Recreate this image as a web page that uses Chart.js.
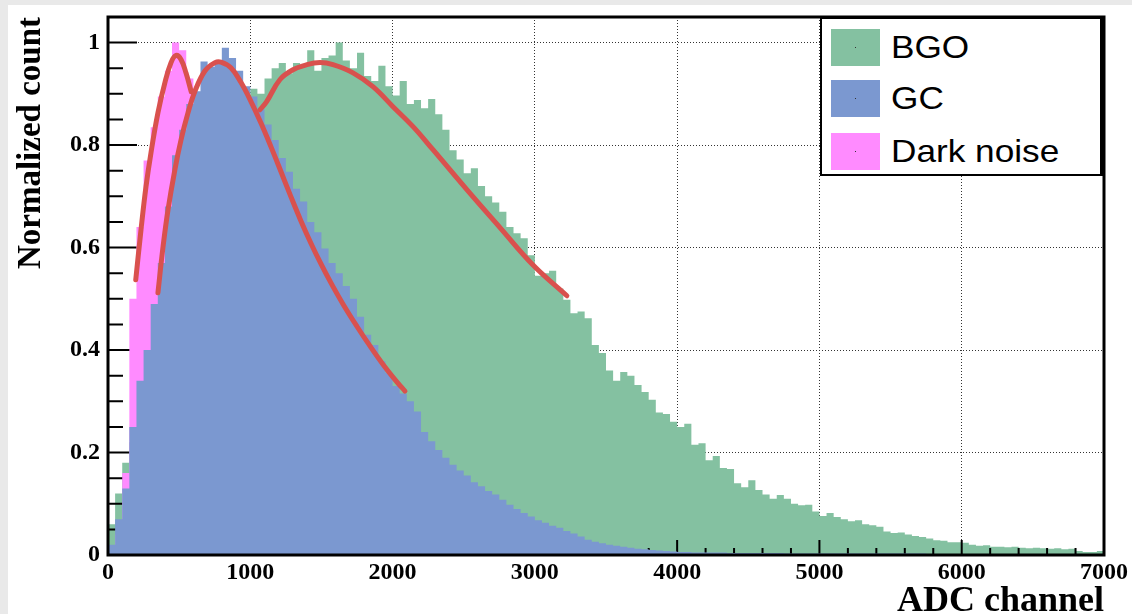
<!DOCTYPE html>
<html>
<head>
<meta charset="utf-8">
<script src="https://cdn.jsdelivr.net/npm/chart.js@4.4.1/dist/chart.umd.min.js"></script>
<style>
  html, body { margin: 0; padding: 0; background: #e9e9e9; }
  #wrap { position: absolute; left: 8px; top: 5px; width: 1124px; height: 609px; background: #fff; }
  #c { position: absolute; left: 0; top: 0; }
  #legendBox {
    position: absolute; left: 812px; top: 12px; width: 284px; height: 159px;
    box-sizing: border-box; background: #fff;
    border: 2px solid #000; border-right-width: 4px;
    font-family: "Liberation Sans", Arial, sans-serif; font-size: 32px; color: #000;
  }
  .item { position: absolute; left: 9px; height: 37px; }
  .sw { position: absolute; left: 0; top: 0; width: 49px; height: 37px; }
  .sw::after { content: ""; position: absolute; left: 24px; top: 18px; width: 1px; height: 1px; background: #333; }
  .lbl { position: absolute; left: 60px; top: 0; line-height: 37px; white-space: nowrap;
         transform: scaleX(1.1); transform-origin: left center; }
</style>
</head>
<body>
<div id="wrap">
  <canvas id="c" width="1124" height="609"></canvas>
  <div id="legendBox"></div>
</div>
<script>
// ---- data ----
const binWidth = 50;   // ADC channels per bin

// BGO histogram, bins 0..6950
const bgoCounts = [
  0.06, 0.12, 0.18, 0.22, 0.28, 0.35, 0.42, 0.50, 0.57, 0.63,
  0.69, 0.74, 0.78, 0.82, 0.85, 0.87, 0.88, 0.89, 0.90, 0.89,
  0.91, 0.90, 0.93, 0.95, 0.96, 0.94, 0.96, 0.955, 0.985, 0.945,
  0.97, 0.975, 1.0, 0.965, 0.95, 0.98, 0.935, 0.925, 0.955, 0.915,
  0.897, 0.925, 0.88, 0.888, 0.872, 0.89, 0.86, 0.83, 0.79, 0.772,
  0.745, 0.755, 0.72, 0.70, 0.688, 0.67, 0.64, 0.628, 0.618, 0.585,
  0.545, 0.55, 0.555, 0.52, 0.498, 0.472, 0.475, 0.462, 0.41, 0.394,
  0.36, 0.34, 0.357, 0.35, 0.332, 0.318, 0.303, 0.278, 0.275, 0.26,
  0.25, 0.256, 0.215, 0.218, 0.185, 0.193, 0.17, 0.168, 0.14, 0.132,
  0.146, 0.127, 0.118, 0.11, 0.117, 0.11, 0.10, 0.097, 0.098, 0.085,
  0.076, 0.082, 0.074, 0.07, 0.066, 0.068, 0.06, 0.058, 0.055, 0.046,
  0.043, 0.044, 0.04, 0.037, 0.035, 0.032, 0.029, 0.028, 0.025, 0.025,
  0.024, 0.02, 0.018, 0.019, 0.016, 0.016, 0.015, 0.016, 0.014, 0.013,
  0.014, 0.013, 0.012, 0.013, 0.011, 0.012, 0.008, 0.006, 0.006, 0.008
];

// GC histogram, bins 0..6950
const gcCounts = [
  0.02, 0.07, 0.13, 0.25, 0.34, 0.40, 0.49, 0.57, 0.68, 0.78,
  0.83, 0.88, 0.905, 0.963, 0.953, 0.963, 0.99, 0.97, 0.945, 0.915,
  0.895, 0.87, 0.84, 0.81, 0.775, 0.748, 0.715, 0.69, 0.65, 0.63,
  0.598, 0.57, 0.55, 0.525, 0.50, 0.465, 0.43, 0.41, 0.378, 0.355,
  0.33, 0.315, 0.30, 0.28, 0.24, 0.222, 0.205, 0.19, 0.176, 0.165,
  0.155, 0.142, 0.134, 0.125, 0.118, 0.108, 0.098, 0.09, 0.082, 0.075,
  0.068, 0.063, 0.057, 0.053, 0.047, 0.042, 0.036, 0.03, 0.026, 0.023,
  0.02, 0.018, 0.016, 0.014, 0.012, 0.011, 0.01, 0.009, 0.008, 0.007,
  0.006, 0.006, 0.005, 0.005, 0.005, 0.005, 0.005, 0.004, 0.004, 0.004,
  0.004, 0.004, 0.004, 0.004, 0.004, 0.003, 0.003, 0.003, 0.003, 0.003,
  0.003, 0.003, 0.003, 0.003, 0.003, 0.003, 0.003, 0.003, 0.003, 0.003,
  0.003, 0.003, 0.003, 0.003, 0.003, 0.002, 0.002, 0.002, 0.002, 0.002,
  0.002, 0.002, 0.002, 0.002, 0.002, 0.002, 0.002, 0.002, 0.002, 0.002,
  0.002, 0.002, 0.002, 0.002, 0.002, 0.002, 0.002, 0.002, 0.002, 0.002
];

// dark noise histogram, bins 0..1150
const darkCounts = [
  0.005, 0.04, 0.16, 0.5, 0.64, 0.77, 0.835, 0.895, 0.945, 1.0,
  0.985, 0.93, 0.8, 0.62, 0.45, 0.3, 0.2, 0.13, 0.08, 0.05,
  0.03, 0.02, 0.01, 0.005
];

// fitted curves
const darkFitX = [195, 232, 267, 302, 351, 400, 443, 478, 513, 548, 585];
const darkFitY = [0.537, 0.635, 0.719, 0.785, 0.863, 0.922, 0.961, 0.975, 0.967, 0.941, 0.904];

const gcFitX = [351, 387, 422, 470, 513, 562, 611, 682, 752, 794, 864, 935, 1005, 1075, 1145,
                1216, 1286, 1356, 1427, 1497, 1565, 1651, 1750, 1841, 1933, 2030, 2087];
const gcFitY = [0.512, 0.602, 0.674, 0.752, 0.81, 0.863, 0.905, 0.945, 0.961, 0.962, 0.951, 0.922, 0.885, 0.843, 0.797,
                0.748, 0.699, 0.652, 0.608, 0.568, 0.532, 0.49, 0.446, 0.408, 0.372, 0.338, 0.32];

const bgoFitX = [1068, 1115, 1209, 1300, 1398, 1490, 1581, 1722, 1862, 2003, 2144, 2284, 2522, 2755, 2987, 3225];
const bgoFitY = [0.869, 0.885, 0.928, 0.947, 0.957, 0.961, 0.957, 0.941, 0.914, 0.875, 0.836, 0.791, 0.713, 0.639, 0.566, 0.506];

const xTickValues = [0, 1000, 2000, 3000, 4000, 5000, 6000, 7000];
const yTickValues = [0, 0.2, 0.4, 0.6, 0.8, 1];
const yTickLabels = ['0', '0.2', '0.4', '0.6', '0.8', '1'];
const xMinorStep = 200;
const yMinorStep = 0.05;

const legendNames = ['BGO', 'GC', 'Dark noise'];
const colGreen = '#84c1a1', colBlue = '#7b98d0', colPink = '#ff8bff', colRed = '#d9514e';
const legendColors = [colGreen, colBlue, colPink];

// ---- helpers ----
function histPoints(counts){
  let pts = counts.map((c, i) => ({x: i*binWidth, y: c}));
  pts.push({x: counts.length*binWidth, y: counts[counts.length-1]});  // close last bin
  return pts;
}
function fitPoints(xs, ys){
  return xs.map((x, i) => ({x: x, y: ys[i]}));
}

function histSet(label, counts, color, order){
  return {
    label: label, data: histPoints(counts), stepped: 'before', fill: 'origin',
    backgroundColor: color, borderColor: 'rgba(0,0,0,0)', borderWidth: 1,
    pointRadius: 0, order: order
  };
}
function fitSet(label, xs, ys){
  return {
    label: label, data: fitPoints(xs, ys), borderColor: colRed, borderWidth: 5,
    tension: 0.4, pointRadius: 0, fill: false,
    borderCapStyle: 'round', order: 0
  };
}

// ticks go in after the BGO layer (other histograms cover them), frame goes on top
const rootAxes = {
  id: 'rootAxes',
  afterDatasetDraw(chart, args){
    if (args.index !== 0) return;
    const {ctx, chartArea: a, scales: {x, y}} = chart;
    ctx.save();
    ctx.strokeStyle = '#000';
    ctx.lineWidth = 2;
    ctx.beginPath();
    for (let v = 0; v <= 7000; v += xMinorStep){
      const px = x.getPixelForValue(v);
      const len = (v % 1000 === 0) ? 15 : 7;
      ctx.moveTo(px, a.bottom); ctx.lineTo(px, a.bottom - len);
    }
    for (let i = 0; i <= 20; i++){
      const py = y.getPixelForValue(i*yMinorStep);
      const len = (i % 4 === 0) ? 29 : 15;
      ctx.moveTo(a.left, py); ctx.lineTo(a.left + len, py);
    }
    ctx.stroke();
    ctx.restore();
  },
  afterDatasetsDraw(chart){
    const {ctx, chartArea: a} = chart;
    ctx.save();
    ctx.strokeStyle = '#000';
    ctx.lineWidth = 3;
    ctx.strokeRect(a.left, a.top, a.right - a.left, a.bottom - a.top);
    ctx.restore();
  }
};

const serif = '"Liberation Serif", "Times New Roman", serif';

new Chart(document.getElementById('c'), {
  type: 'line',
  data: {
    datasets: [
      histSet('BGO', bgoCounts, colGreen, 3),
      histSet('GC', gcCounts, colBlue, 1),
      histSet('Dark noise', darkCounts, colPink, 2),
      fitSet('BGO fit', bgoFitX, bgoFitY),
      fitSet('GC fit', gcFitX, gcFitY),
      fitSet('Dark noise fit', darkFitX, darkFitY)
    ]
  },
  options: {
    responsive: false,
    animation: false,
    devicePixelRatio: 1,
    layout: { padding: { left: 0, top: 12, right: 28, bottom: 0 } },
    plugins: { legend: { display: false }, tooltip: { enabled: false } },
    scales: {
      x: {
        type: 'linear', min: 0, max: 7000,
        afterFit: s => { s.height = 59; s.paddingLeft = 0; s.paddingRight = 0; },
        afterBuildTicks: s => { s.ticks = xTickValues.map(v => ({value: v})); },
        grid: { color: '#333', lineWidth: 1, drawTicks: false },
        border: { display: false, dash: [1, 2] },
        ticks: {
          padding: 3, color: '#000', maxRotation: 0, autoSkip: false,
          font: { family: serif, weight: 'bold', size: 24 },
          callback: v => String(v)
        },
        title: {
          display: true, text: 'ADC channel', align: 'end', color: '#000',
          font: { family: serif, weight: 'bold', size: 36, lineHeight: 0.7 },
          padding: { top: 0, bottom: 0 }
        }
      },
      y: {
        min: 0, max: 1.05,
        afterFit: s => { s.width = 100; s.paddingTop = 0; s.paddingBottom = 0; },
        afterBuildTicks: s => { s.ticks = yTickValues.map(v => ({value: v})); },
        grid: { color: '#333', lineWidth: 1, drawTicks: false },
        border: { display: false, dash: [1, 2] },
        ticks: {
          padding: 8, color: '#000', autoSkip: false,
          font: { family: serif, weight: 'bold', size: 24 },
          callback: (v, i) => yTickLabels[i]
        },
        title: {
          display: true, text: 'Normalized count', align: 'end', color: '#000',
          font: { family: serif, weight: 'bold', size: 33, lineHeight: 0.9 },
          padding: { top: 9, bottom: 0 }
        }
      }
    }
  },
  plugins: [rootAxes]
});

// legend box
const box = document.getElementById('legendBox');
const tops = [10, 61, 114];
legendNames.forEach((name, i) => {
  const it = document.createElement('div');
  it.className = 'item';
  it.style.top = tops[i] + 'px';
  const sw = document.createElement('div');
  sw.className = 'sw';
  sw.style.background = legendColors[i];
  const lb = document.createElement('div');
  lb.className = 'lbl';
  lb.textContent = name;
  it.appendChild(sw); it.appendChild(lb);
  box.appendChild(it);
});
</script>
</body>
</html>
